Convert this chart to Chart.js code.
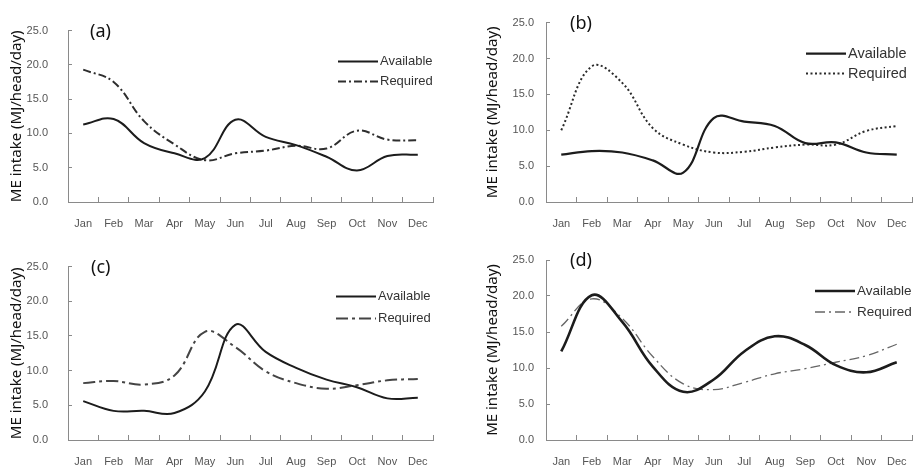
<!DOCTYPE html>
<html>
<head>
<meta charset="utf-8">
<script src="https://cdn.jsdelivr.net/npm/chart.js@4/dist/chart.umd.min.js"></script>
<style>
    body { margin: 0; background: #fff; width: 920px; height: 472px; position: relative; overflow: hidden; }
    canvas { position: absolute; }
</style>
</head>
<body>
<canvas id="chart-a" width="460" height="236" style="left:0;top:0"></canvas>
<canvas id="chart-b" width="460" height="236" style="left:460px;top:0"></canvas>
<canvas id="chart-c" width="460" height="236" style="left:0;top:236px"></canvas>
<canvas id="chart-d" width="460" height="236" style="left:460px;top:236px"></canvas>
<script>
// Data (MJ/head/day)
const months = ['Jan', 'Feb', 'Mar', 'Apr', 'May', 'Jun', 'Jul', 'Aug', 'Sep', 'Oct', 'Nov', 'Dec'];
const yTicks = [0, 5, 10, 15, 20, 25];

const availableA = [11.3, 12.1, 8.6, 7.1, 6.4, 12.0, 9.5, 8.3, 6.6, 4.6, 6.7, 6.9];
const requiredA  = [19.3, 17.5, 11.8, 8.4, 6.1, 7.1, 7.5, 8.2, 7.8, 10.4, 9.1, 9.0];

const availableB = [6.6, 7.1, 6.9, 5.8, 4.1, 11.7, 11.2, 10.6, 8.2, 8.3, 6.9, 6.6];
const requiredB  = [10.0, 18.9, 16.6, 10.3, 8.0, 6.9, 7.0, 7.6, 8.0, 8.0, 9.9, 10.6];

const availableC = [5.6, 4.2, 4.2, 3.9, 7.0, 16.6, 12.7, 10.4, 8.7, 7.6, 6.0, 6.1];
const requiredC  = [8.2, 8.5, 8.0, 9.3, 15.6, 13.4, 9.9, 8.2, 7.4, 7.9, 8.6, 8.8];

const availableD = [12.3, 20.1, 16.4, 10.2, 6.7, 8.4, 12.3, 14.4, 13.2, 10.4, 9.4, 10.8];
const requiredD  = [15.8, 19.6, 16.9, 11.6, 7.8, 7.0, 8.0, 9.2, 9.9, 10.8, 11.7, 13.3];

// Styles
const axisGray = '#8a8a8a';
const tickGray = '#555';
const tickFont = { family: '"Liberation Sans", Arial, sans-serif', size: 11 };

// Panel letter drawn in the top-left of the plot area
const panelLabel = {
    id: 'panelLabel',
    afterDraw(chart, args, opts) {
        const { ctx, chartArea } = chart;
        ctx.save();
        ctx.font = '18px "Noto Sans", sans-serif';
        ctx.fillStyle = '#111';
        ctx.textBaseline = 'middle';
        ctx.fillText(opts.text, chartArea.left + opts.dx, chartArea.top + 1);
        ctx.restore();
    }
};

// Legend in the top-right of the plot area, line sample + name
const lineLegend = {
    id: 'lineLegend',
    afterDraw(chart, args, opts) {
        const { ctx, chartArea } = chart;
        const textX = chartArea.right - opts.inset;
        ctx.save();
        ctx.font = opts.size + 'px "Liberation Sans", Arial, sans-serif';
        ctx.textBaseline = 'middle';
        chart.data.datasets.forEach((ds, i) => {
            const y = chartArea.top + opts.rowTop + i * opts.rowGap;
            ctx.beginPath();
            ctx.setLineDash(ds.borderDash || []);
            ctx.strokeStyle = ds.borderColor;
            ctx.lineWidth = ds.borderWidth;
            ctx.moveTo(textX - 42, y);
            ctx.lineTo(textX - 2, y);
            ctx.stroke();
            ctx.setLineDash([]);
            ctx.fillStyle = '#333';
            ctx.fillText(ds.label, textX, y);
        });
        ctx.restore();
    }
};

function renderPanel(id, letter, available, required, look) {
    return new Chart(document.getElementById(id), {
        type: 'line',
        data: {
            labels: months,
            datasets: [{
                label: 'Available',
                data: available,
                borderColor: '#1c1c1c',
                borderWidth: look.availWidth,
                tension: 0.4,
                pointRadius: 0,
                fill: false
            }, {
                label: 'Required',
                data: required,
                borderColor: look.reqColor,
                borderWidth: look.reqWidth,
                borderDash: look.reqDash,
                tension: 0.4,
                pointRadius: 0,
                fill: false
            }]
        },
        options: {
            responsive: false,
            animation: false,
            layout: { padding: { left: 0, top: look.top, right: look.right, bottom: 0 } },
            scales: {
                x: {
                    offset: true,
                    grid: { offset: true, drawOnChartArea: false, tickLength: -5, color: axisGray },
                    border: { color: axisGray },
                    ticks: { padding: 20, color: tickGray, font: tickFont, maxRotation: 0, autoSkip: false },
                    afterFit: s => {
                        s.height = look.xHeight;
                        s.paddingLeft = 0;
                        s.paddingRight = 0;
                    }
                },
                y: {
                    min: 0,
                    max: 25,
                    afterBuildTicks: s => { s.ticks = yTicks.map(v => ({ value: v })); },
                    ticks: { callback: v => v.toFixed(1), padding: look.yPad, color: tickGray, font: tickFont },
                    grid: { drawOnChartArea: false, tickLength: -4, color: axisGray },
                    border: { color: axisGray },
                    title: {
                        display: true,
                        text: 'ME intake (MJ/head/day)',
                        color: '#111',
                        font: { family: '"Noto Sans", sans-serif', size: 15 },
                        padding: { top: look.titlePad, bottom: 0 }
                    },
                    afterFit: s => { s.width = look.left; }
                }
            },
            plugins: {
                legend: { display: false },
                tooltip: { enabled: false },
                panelLabel: { text: letter, dx: look.labelDx },
                lineLegend: look.legend
            }
        },
        plugins: [panelLabel, lineLegend]
    });
}

renderPanel('chart-a', '(a)', availableA, requiredA, {
    top: 21, right: 27, left: 68, xHeight: 34, yPad: 24, titlePad: 8, labelDx: 22,
    availWidth: 2, reqColor: '#2e2e2e', reqWidth: 2, reqDash: [8, 3, 2, 3],
    legend: { inset: 53, rowTop: 31, rowGap: 20, size: 13 }
});
renderPanel('chart-b', '(b)', availableB, requiredB, {
    top: 21, right: 8, left: 86, xHeight: 34, yPad: 16, titlePad: 24, labelDx: 24,
    availWidth: 2.2, reqColor: '#2a2a2a', reqWidth: 2, reqDash: [2, 2.5],
    legend: { inset: 64, rowTop: 31, rowGap: 20, size: 14.5 }
});
renderPanel('chart-c', '(c)', availableC, requiredC, {
    top: 24, right: 27, left: 68, xHeight: 32, yPad: 24, titlePad: 8, labelDx: 23,
    availWidth: 2, reqColor: '#444', reqWidth: 2, reqDash: [12, 4, 3, 4],
    legend: { inset: 55, rowTop: 30, rowGap: 22, size: 13 }
});
renderPanel('chart-d', '(d)', availableD, requiredD, {
    top: 24, right: 8, left: 86, xHeight: 32, yPad: 16, titlePad: 24, labelDx: 24,
    availWidth: 2.6, reqColor: '#666', reqWidth: 1.3, reqDash: [10, 4, 2, 4],
    legend: { inset: 55, rowTop: 31, rowGap: 21, size: 13.5 }
});
</script>
</body>
</html>
